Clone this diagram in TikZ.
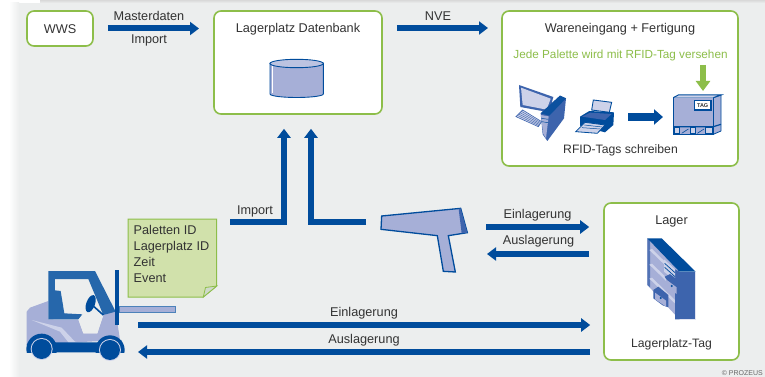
\documentclass[tikz,border=0pt]{standalone}
\usepackage{fontspec}
\setmainfont{Liberation Sans}
\usetikzlibrary{arrows.meta,calc}
\definecolor{panel}{HTML}{ECEEEE}
\definecolor{grn}{HTML}{8DBE4A}
\definecolor{blu}{HTML}{004C9C}
\definecolor{mid}{HTML}{3D64AD}
\definecolor{pur}{HTML}{A6AFD7}
\definecolor{lil}{HTML}{CDD2E9}
\definecolor{txt}{HTML}{333333}
\definecolor{notefill}{HTML}{D1E1AB}
\tikzset{
  box/.style={draw=grn,line width=1.6pt,fill=white,rounded corners=7pt,inner sep=0pt},
  lbl/.style={text=txt,font=\fontsize{12.7}{15}\selectfont,inner sep=0pt},
  lblsmall/.style={lbl,font=\fontsize{12.2}{15}\selectfont},
  bigarrow/.style={draw=blu,line width=6pt,line join=miter,-{Triangle[length=9pt,width=13pt]}},
  pp/.style={fill=pur,draw=blu,line width=.9pt,line join=round},
  zm/.style={x=.3333pt,y=-.3333pt}
}
\begin{document}
\begin{tikzpicture}[x=1pt,y=-1pt]
\useasboundingbox (0,0) rectangle (765,377);
% background
\fill[white] (0,0) rectangle (765,377);
\fill[panel] (19,3) rectangle (765,377);
\shade[left color=white,right color=panel] (9,3) rectangle (19,377);
\shade[top color=black!15,bottom color=panel] (40,0) rectangle (765,3);
% boxes
\node[box,minimum width=66pt,minimum height=35pt] (wws) at (60,28.5) {};
\node[box,minimum width=168pt,minimum height=103pt] (db) at (298,62.5) {};
\node[box,minimum width=236pt,minimum height=155pt] (ware) at (620,88.5) {};
\node[box,minimum width=135pt,minimum height=157pt] (lager) at (671.5,281.5) {};
% box texts
\node[lbl] (twws) at (60,29) {WWS};
\node[lbl] (tdb) at (298,29) {Lagerplatz Datenbank};
\node[lbl] (tware) at (620,29) {Wareneingang + Fertigung};
\node[lbl,text=grn,font=\fontsize{11.75}{14}\selectfont] (tjede) at (620.5,55) {Jede Palette wird mit RFID-Tag versehen};
\node[lblsmall] (trfid) at (620.5,150.5) {RFID-Tags schreiben};
\node[lbl] (tlag) at (671.5,221) {Lager};
\node[lblsmall] (tlpt) at (671.5,344.5) {Lagerplatz-Tag};
% arrow labels
\node[lbl] (l1) at (149,16) {Masterdaten};
\node[lbl] (l2) at (149,40) {Import};
\node[lbl] (l3) at (438,16) {NVE};
\node[lbl] (l4) at (255,211) {Import};
\node[lbl] (l5) at (537.5,215) {Einlagerung};
\node[lbl] (l6) at (538.5,241.5) {Auslagerung};
\node[lbl] (l7) at (364,313) {Einlagerung};
\node[lbl] (l8) at (364,340) {Auslagerung};
\node[text=black!60,font=\fontsize{7}{8}\selectfont,inner sep=0pt,anchor=east] (copy) at (763,373) {© PROZEUS};
% note
\draw[fill=notefill,draw=grn,line width=1pt,line join=miter] (128,219)--(216.7,219)--(216.7,286)--(203.3,297)--(128,297)--cycle;
\draw[fill=lil!50!notefill,draw=grn,line width=.8pt] (216.7,286)--(205.5,287.5)--(203.3,297)--cycle;
\node[lbl,align=left,anchor=north west,font=\fontsize{12.7}{16}\selectfont] (tnote) at (133.5,224.8) {Paletten ID\\Lagerplatz ID\\Zeit\\Event};
% named ends of connectors
\coordinate (scanL) at (366,222);
\coordinate (imp) at (230,222);
\coordinate (forkS) at (138,325);
\coordinate (forkE) at (138,352);
\coordinate (scanR1) at (486,227);
\coordinate (scanR2) at (487,254);
\coordinate (nveE) at (488,28);
\coordinate (prn) at (628,117);
\coordinate (pal) at (663,117);
\coordinate (gt) at (703,65);
\coordinate (gb) at (703,91);
% connectors
\draw[bigarrow] ([xshift=14pt]wws.east) -- (199,28.5);
\draw[bigarrow] (db.east |- 0,28) ++(14,0) -- (nveE);
\draw[bigarrow] (imp) -| ([xshift=-14pt,yshift=-14pt]db.south);
\draw[bigarrow] (scanL) -| ([xshift=13pt,yshift=-14pt]db.south);
\draw[bigarrow] (scanR1) -- ([xshift=-14pt]lager.west |- scanR1);
\draw[bigarrow] ([xshift=-14pt]lager.west |- scanR2) -- (scanR2);
\draw[bigarrow] (forkS) -- ([xshift=-13pt]lager.west |- forkS);
\draw[bigarrow] ([xshift=-13pt]lager.west |- forkE) -- (forkE);
\draw[draw=blu,line width=8pt,-{Triangle[length=9pt,width=15pt]}] (prn) -- (pal);
\draw[draw=grn,line width=6pt,-{Triangle[length=10pt,width=14pt]}] (gt) -- (gb);
% database cylinder
\draw[pp] (270,63) -- (270,94) arc[start angle=180,end angle=360,x radius=26.65pt,y radius=3.5pt] -- (323.3,63) -- cycle;
\draw[fill=pur!75!white,draw=blu,line width=.9pt] (296.65,63.5) ellipse[x radius=26.65pt,y radius=4.2pt];
\draw[white,line width=.8pt] (272,66)--(272,93);
% scanner
\begin{scope}[shift={(360,190)},zm]
\draw[fill=pur,draw=blu,line width=1.3pt,line join=miter] (65,78)--(302,55)--(322,128)--(265,137)--(286,246)--(250,244)--(232,137)--(63,118)--cycle;
\fill[mid] (296,57)--(302,55)--(322,128)--(305,130)--cycle;
\end{scope}
% forklift
\begin{scope}[shift={(20,265)},zm]
\fill[pur] (20,140)--(30,128)--(85,108)--(85,163)--(175,163)--(190,205)--(232,205)--(250,150)--(287,138)--(300,225)--(20,240)--cycle;
\fill[lil] (35,165)--(125,188)--(165,230)--(215,238)--(150,238)--(120,200)--cycle;
\fill[panel] (105,42)--(205,42)--(250,150)--(232,205)--(190,205)--(175,163)--(100,163)--cycle;
\fill[blu!85!white] (85,18)--(225,18)--(287,140)--(250,150)--(205,42)--(105,42)--(105,76)--(122,78)--(133,145)--(187,148)--(175,163)--(85,163)--cycle;
\fill[blu,rotate around={70:(212,116)}] (212,116) ellipse[x radius=27,y radius=13];
\draw[blu,line width=1.6pt] (212,116)--(250,150);
\fill[blu] (284,14) rectangle (298,180);
\draw[fill=pur,draw=blu!70!white,line width=.8pt] (298,124) rectangle (465,143);
% fenders, chassis
\begin{scope}
\clip (0,0) rectangle (320,262);
\fill[blu] (65,252) circle[radius=46];
\fill[blu] (270,255) circle[radius=44];
\end{scope}
\fill[blu] (20,238)--(40,232)--(295,232)--(304,225)--(304,238)--(292,262)--(40,262)--cycle;
\foreach \cx/\cy in {65/252,270/255}{
  \fill[lil] (\cx,\cy) circle[radius=33];
  \fill[blu] (\cx,\cy) circle[radius=30];
}
\end{scope}
% computer
\begin{scope}[shift={(510,75)},zm]
\fill[mid] (27,30)--(130,66)--(118,112)--(31,96)--cycle;
\fill[lil] (33,38)--(122,71)--(110,104)--(38,90)--cycle;
\fill[lil] (18,125)--(38,105)--(95,140)--(85,155)--cycle;
\foreach \t in {.2,.4,.6,.8}{\draw[mid,line width=.4pt] ($(18,125)!\t!(38,105)$)--($(85,155)!\t!(95,140)$);}
\draw[mid,line width=.6pt] (18,125)--(38,105)--(95,140)--(85,155)--cycle;
\fill[mid] (92,115)--(150,62)--(168,70)--(162,130)--(112,198)--(98,178)--cycle;
\fill[blu!80!mid] (92,115)--(150,62)--(168,70)--(118,122)--cycle;
\fill[pur] (93,120)--(116,124)--(108,190)--(99,175)--cycle;
\draw[blu,line width=.5pt] (94,130)--(115,133) (95,140)--(114,143);
\end{scope}
% printer
\begin{scope}[shift={(510,75)},zm]
\draw[fill=lil,draw=blu,line width=.9pt] (250,75)--(305,82)--(298,112)--(245,105)--cycle;
\fill[blu] (210,125)--(238,108)--(312,112)--(310,150)--(285,172)--(210,152)--cycle;
\fill[mid] (216,125)--(240,113)--(305,117)--(285,135)--cycle;
\draw[fill=lil,draw=blu,line width=.8pt] (197,170)--(225,142)--(285,150)--(262,175)--cycle;
\draw[blu,line width=.5pt] (216,158)--(270,162) (223,150)--(276,156);
\end{scope}
% pallet box
\begin{scope}[shift={(665,85)},zm]
\draw[fill=pur,draw=blu,line width=.8pt,line join=round] (145,38)--(168,30)--(168,138)--(145,148)--cycle;
\draw[fill=pur,draw=blu,line width=1pt] (25,38) rectangle (145,148);
\fill[lil] (25,38)--(40,30)--(168,30)--(145,38)--cycle;
\draw[blu,line width=1pt] (25,38)--(40,30)--(168,30)--(145,38);
\draw[blu,line width=1.2pt] (25,125)--(145,125) (145,125)--(168,118);
\draw[fill=lil,draw=blu,line width=.8pt] (28,127) rectangle (42,146) (75,127) rectangle (90,146) (122,127) rectangle (143,146);
\draw[blu,line width=.6pt] (50,145)--(70,132) (97,145)--(117,132);
\draw[fill=white,draw=blu,line width=1.2pt] (88,47) rectangle (138,75);
\node[inner sep=0pt,text=txt,font=\fontsize{5.5}{6}\selectfont\bfseries] (ttag) at (113,61) {TAG};
\end{scope}
% shelf
\begin{scope}[shift={(640,230)},zm]
\fill[pur] (22,25)--(118,125)--(118,268)--(22,165)--cycle;
\fill[mid!80!pur] (22,25)--(30,33)--(30,172)--(22,165)--cycle;
\foreach \d in {32,76,118}{
  \fill[lil] (28,\d+28)--(36,\d+25)--(118,\d+105)--(118,\d+115)--cycle;
}
\fill[blu] (22,25)--(65,25)--(167,125)--(118,125)--cycle;
\fill[mid] (118,125) rectangle (167,268);
\draw[lil!60!white,line width=.5pt] (167,125)--(167,268)--(118,268);
\fill[mid] (118,125)--(105,118)--(105,268)--(118,268)--cycle;
% drawers
\fill[lil] (72,88)--(105,118)--(105,152)--(72,125)--cycle;
\draw[blu,line width=.7pt] (74,100)--(105,128) (74,112)--(105,140);
\fill[mid] (74,140)--(90,132)--(120,155)--(118,190)--(100,182)--cycle;
\fill[pur] (78,148)--(110,172)--(110,192)--(78,170)--cycle;
\fill[blu] (95,168) circle[radius=3.5];
\fill[mid] (40,180)--(55,170)--(85,195)--(85,232)--(68,226)--(40,205)--cycle;
\fill[pur] (45,188)--(78,212)--(78,230)--(45,208)--cycle;
\fill[blu] (62,204) circle[radius=3.5];
\end{scope}
\end{tikzpicture}
\end{document}
